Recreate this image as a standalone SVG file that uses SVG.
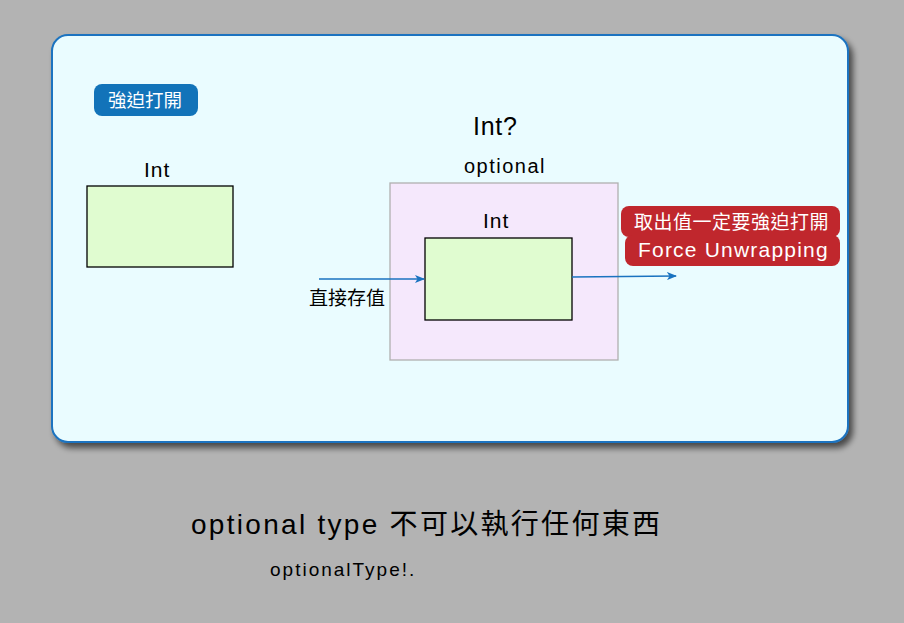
<svg xmlns="http://www.w3.org/2000/svg" width="904" height="623" viewBox="0 0 904 623">
<defs>
<filter id="sh" x="-10%" y="-10%" width="120%" height="120%">
<feGaussianBlur in="SourceAlpha" stdDeviation="3"/>
<feOffset dx="4" dy="5" result="b"/>
<feComponentTransfer><feFuncA type="linear" slope="0.6"/></feComponentTransfer>
<feMerge><feMergeNode/><feMergeNode in="SourceGraphic"/></feMerge>
</filter>
<marker id="arr" markerWidth="10" markerHeight="8" refX="9" refY="4" orient="auto" markerUnits="userSpaceOnUse">
<path d="M0,0 L10,4 L0,8 L2.5,4 Z" fill="#1a73c0"/>
</marker>
</defs>
<style>
.t{font-family:"Liberation Sans","Noto Sans CJK TC",sans-serif;fill:#000}
.w{font-family:"Liberation Sans","Noto Sans CJK TC",sans-serif;fill:#fff}
.box{fill:#e0fcd0;stroke:#000;stroke-width:1.3}
.conn{stroke:#1a73c0;stroke-width:1.3;fill:none}
</style>
<rect width="904" height="623" fill="#b3b3b3"/>
<g id="panel">
<rect x="52" y="35" width="796" height="407" rx="16" fill="#eafcff" stroke="#1a73c0" stroke-width="2" filter="url(#sh)"/>
</g>
<g id="label-force">
<rect x="94" y="84" width="104" height="32" rx="8" fill="#1273b9"/>
<text class="w" x="108" y="107" font-size="18.5">強迫打開</text>
</g>
<g id="int-left">
<text class="t" x="144" y="177" font-size="21" letter-spacing="1">Int</text>
<rect class="box" x="87" y="186" width="146" height="81"/>
</g>
<g id="optional">
<text class="t" x="473" y="135" font-size="25" letter-spacing="0.7">Int?</text>
<text class="t" x="464" y="173" font-size="20" letter-spacing="1.5">optional</text>
<rect x="390" y="183" width="228" height="177" fill="#f5e8fc" stroke="#b0b0b0" stroke-width="1.3"/>
</g>
<g id="int-inner">
<text class="t" x="483" y="228" font-size="21" letter-spacing="1">Int</text>
<rect class="box" x="425" y="238" width="147" height="82"/>
</g>
<g id="connectors">
<line class="conn" x1="319" y1="279" x2="424" y2="279" marker-end="url(#arr)"/>
<line class="conn" x1="572" y1="277" x2="676" y2="276" marker-end="url(#arr)"/>
</g>
<g id="label-store">
<text class="t" x="309" y="305" font-size="19">直接存值</text>
</g>
<g id="label-unwrap">
<rect x="621" y="206" width="219" height="31" rx="8" fill="#c0272d"/>
<rect x="625" y="235" width="215" height="31" rx="8" fill="#c0272d"/>
<text class="w" x="634" y="229" font-size="19" letter-spacing="0.5">取出值一定要強迫打開</text>
<text class="w" x="638" y="257" font-size="21" letter-spacing="1.2">Force Unwrapping</text>
</g>
<g id="caption">
<text class="t" x="191" y="534" font-size="28" textLength="469" lengthAdjust="spacing">optional type 不可以執行任何東西</text>
<text class="t" x="270" y="576" font-size="19" letter-spacing="2">optionalType!.</text>
</g>
</svg>
